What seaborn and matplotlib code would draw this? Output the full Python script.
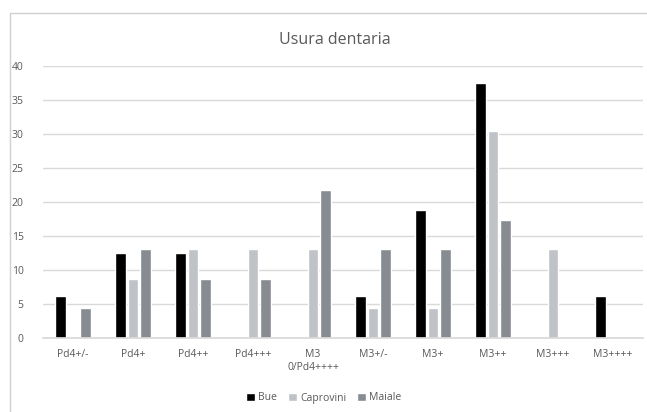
"""Usura dentaria - grouped bar chart."""

import pandas as pd
import seaborn as sns
import matplotlib.pyplot as plt
from matplotlib.lines import Line2D

categories = [
    "Pd4+/-", "Pd4+", "Pd4++", "Pd4+++", "M3\n0/Pd4++++",
    "M3+/-", "M3+", "M3++", "M3+++", "M3++++",
]
bue = [6.25, 12.5, 12.5, 0, 0, 6.25, 18.75, 37.5, 0, 6.25]
caprovini = [0, 8.7, 13.04, 13.04, 13.04, 4.35, 4.35, 30.43, 13.04, 0]
maiale = [4.35, 13.04, 8.7, 8.7, 21.74, 13.04, 13.04, 17.39, 0, 0]
series = ["Bue", "Caprovini", "Maiale"]
colors = ["#000000", "#BFC3C8", "#868C91"]

df = pd.DataFrame({"categoria": categories, "Bue": bue,
                   "Caprovini": caprovini, "Maiale": maiale})
long_df = df.melt(id_vars="categoria", var_name="specie", value_name="valore")

sns.set_theme(style="white")
plt.rcParams["font.family"] = ["Open Sans", "DejaVu Sans"]
text_color = "#595959"

fig = plt.figure(figsize=(6.47, 4.12), dpi=100)
ax = fig.add_axes([43 / 647, 1 - 338 / 412, 600 / 647, 272 / 412])

sns.barplot(
    data=long_df, x="categoria", y="valore", hue="specie",
    hue_order=series, palette=colors, width=0.64, gap=0.16,
    order=categories, ax=ax, legend=True, saturation=1,
)

ax.set_ylim(0, 40)
ax.set_xlim(-0.5, len(categories) - 0.5)
ax.set_yticks(range(0, 45, 5))
ax.yaxis.grid(True, color="#D9D9D9", linewidth=1)
ax.set_axisbelow(True)
for side in ["top", "right", "left"]:
    ax.spines[side].set_visible(False)
ax.spines["bottom"].set_color("#D9D9D9")
ax.tick_params(axis="both", length=0, labelsize=7.5, colors=text_color, pad=8)
ax.tick_params(axis="y", pad=14)
ax.set_xlabel("")
ax.set_ylabel("")

ax.legend(
    loc="center", bbox_to_anchor=(0.5, 1 - 398 / 412), bbox_transform=fig.transFigure,
    ncol=3, frameon=False, fontsize=7.5, handlelength=0.9, handleheight=0.9,
    handletextpad=0.3, columnspacing=1.0, labelcolor=text_color,
)

fig.text(335 / 647, 1 - 40 / 412, "Usura dentaria", ha="center", va="center",
         fontsize=11.5, color=text_color)

# chart border (left and top edges visible in the crop)
fig.add_artist(Line2D([10 / 647, 10 / 647], [0, 1 - 13 / 412],
                      transform=fig.transFigure, color="#D0D0D0", linewidth=1))
fig.add_artist(Line2D([10 / 647, 1], [1 - 13 / 412, 1 - 13 / 412],
                      transform=fig.transFigure, color="#D0D0D0", linewidth=1))

fig.savefig("out.png", dpi=100)
